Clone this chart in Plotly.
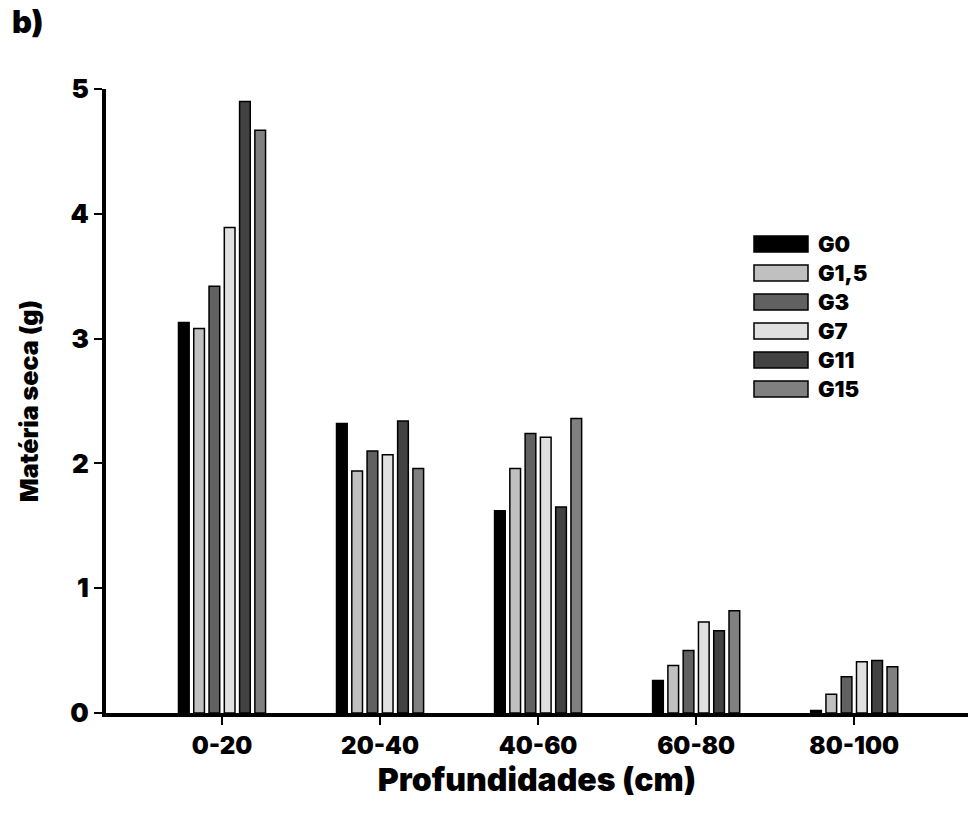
import plotly.graph_objects as go

# Dry matter by soil depth layer for each treatment
depths = ["0-20", "20-40", "40-60", "60-80", "80-100"]
treatments = ["G0", "G1,5", "G3", "G7", "G11", "G15"]
colors = ["#000000", "#c0c0c0", "#616161", "#e0e0e0", "#424242", "#808080"]

g0 = [3.13, 2.32, 1.62, 0.26, 0.02]
g1_5 = [3.08, 1.94, 1.96, 0.38, 0.15]
g3 = [3.42, 2.10, 2.24, 0.50, 0.29]
g7 = [3.89, 2.07, 2.21, 0.73, 0.41]
g11 = [4.90, 2.34, 1.65, 0.66, 0.42]
g15 = [4.67, 1.96, 2.36, 0.82, 0.37]
values = [g0, g1_5, g3, g7, g11, g15]

y_ticks = [0, 1, 2, 3, 4, 5]

FONT = "Inter"
PLOT_W, PLOT_H = 862, 624

fig = go.Figure()
for name, col, vals in zip(treatments, colors, values):
    fig.add_trace(go.Bar(
        x=depths, y=vals, name=name,
        marker=dict(color=col, line=dict(color="#000000", width=1.5)),
        showlegend=False,
    ))

# Legend drawn as wide swatches with labels to the right
leg_x0, leg_x1 = (754 - 106) / PLOT_W, (808 - 106) / PLOT_W
leg_text_x = (816 - 106) / PLOT_W
leg_top = (713 - 244) / PLOT_H
leg_step = 29 / PLOT_H
box_h = 16 / PLOT_H
shapes = []
annotations = []
for i, (name, col) in enumerate(zip(treatments, colors)):
    yc = leg_top - i * leg_step
    shapes.append(dict(type="rect", xref="paper", yref="paper",
                       x0=leg_x0, x1=leg_x1, y0=yc - box_h / 2, y1=yc + box_h / 2,
                       fillcolor=col, line=dict(color="#000000", width=1.5)))
    annotations.append(dict(xref="paper", yref="paper", x=leg_text_x, y=yc,
                            text=name, showarrow=False, xanchor="left", yanchor="middle",
                            font=dict(family=FONT, size=22, color="#000000", weight=900)))

annotations.append(dict(xref="paper", yref="paper", x=(10 - 106) / PLOT_W, y=(713 - 22) / PLOT_H,
                        text="b)", showarrow=False, xanchor="left", yanchor="middle",
                        font=dict(family=FONT, size=31, color="#000000", weight=900)))

fig.update_layout(
    width=968, height=816,
    margin=dict(l=106, r=0, t=89, b=103),
    paper_bgcolor="#ffffff", plot_bgcolor="#ffffff",
    barmode="group", bargap=0.42, bargroupgap=0.3,
    shapes=shapes, annotations=annotations,
    font=dict(family=FONT, color="#000000"),
)
fig.update_xaxes(
    range=[-0.734, 4.72],
    showline=True, linecolor="#000000", linewidth=4,
    ticks="outside", ticklen=8, tickwidth=1.5, tickcolor="#000000",
    tickfont=dict(family=FONT, size=24, color="#000000", weight=900),
    title=dict(text="Profundidades (cm)", standoff=5,
               font=dict(family=FONT, size=32, color="#000000", weight=900)),
    showgrid=False, zeroline=False,
)
fig.update_yaxes(
    range=[0, 5], tickvals=y_ticks,
    showline=True, linecolor="#000000", linewidth=4,
    ticks="outside", ticklen=8, tickwidth=2, tickcolor="#000000",
    tickfont=dict(family=FONT, size=26, color="#000000", weight=900),
    title=dict(text="Matéria seca (g)", standoff=26,
               font=dict(family=FONT, size=25, color="#000000", weight=900)),
    showgrid=False, zeroline=False,
)

fig.write_html("out.html")
